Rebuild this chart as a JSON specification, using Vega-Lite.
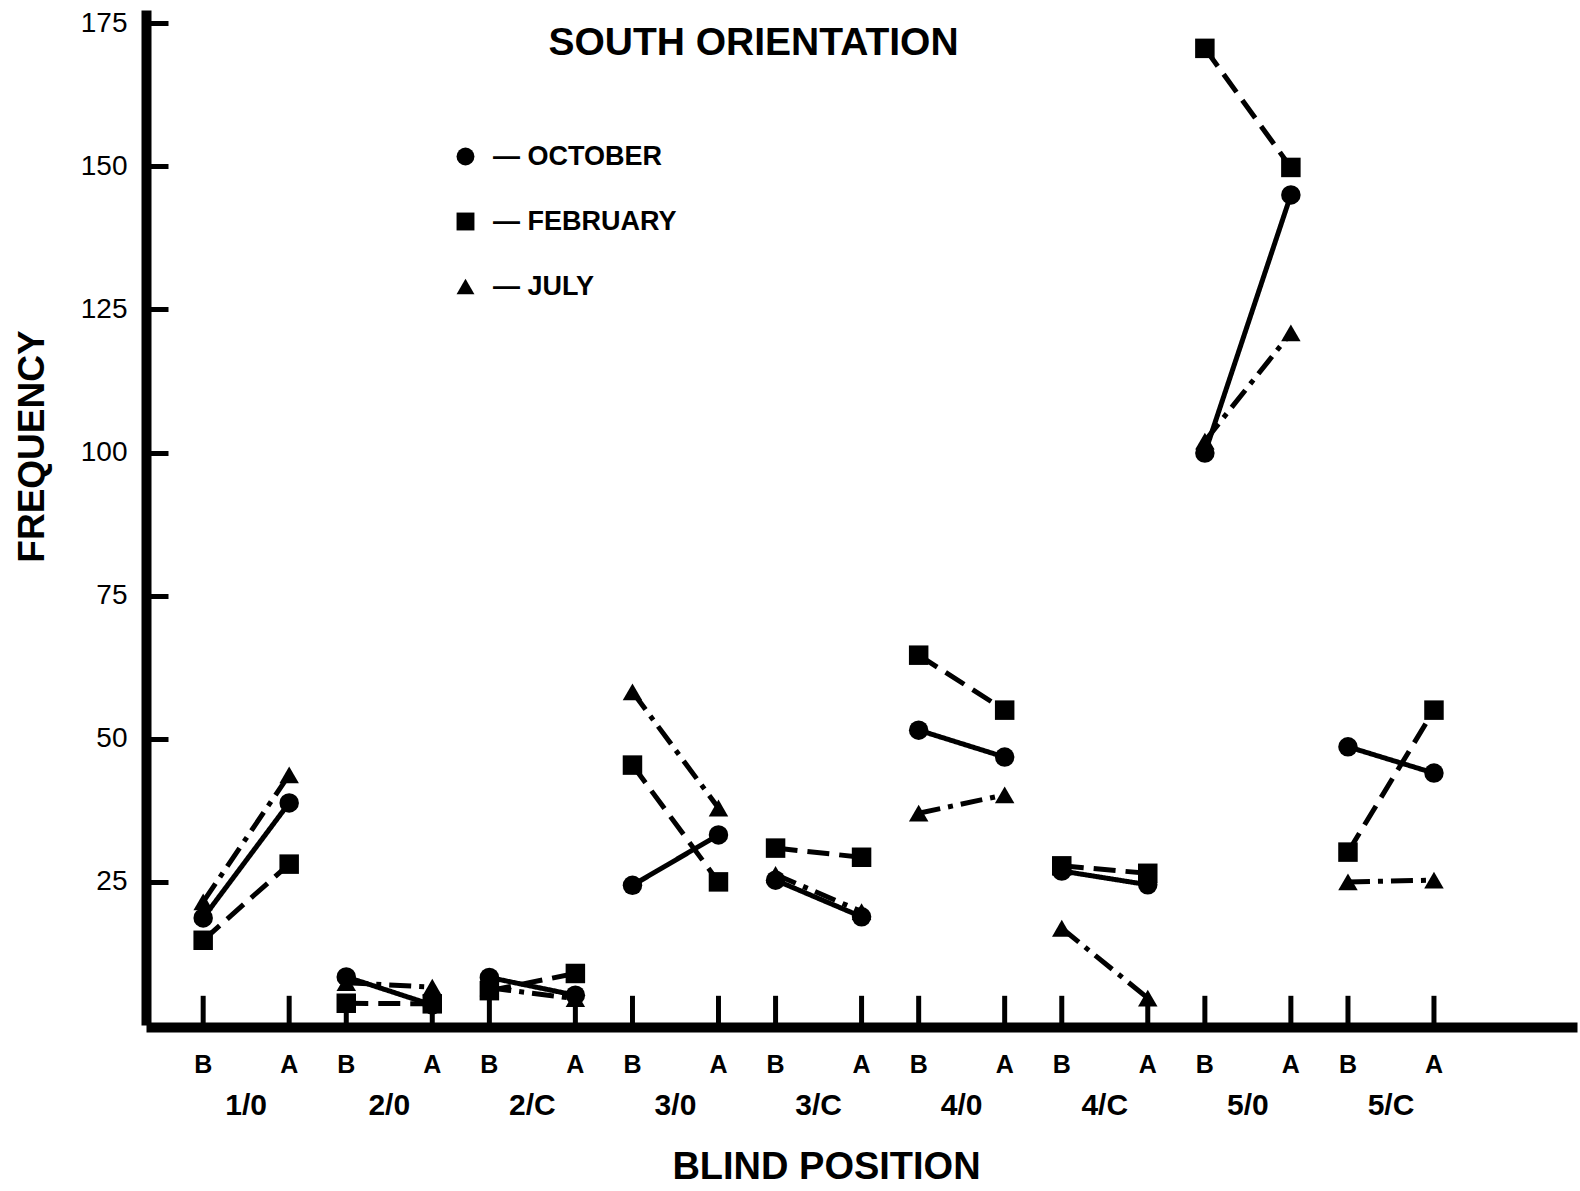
{
  "$schema": "https://vega.github.io/schema/vega-lite/v6.json",
  "width": 1431,
  "height": 1015,
  "autosize": {"type": "none"},
  "padding": {"left": 146, "top": 10, "right": 3, "bottom": 166},
  "background": "white",
  "config": {"view": {"stroke": null}, "font": "Liberation Sans"},
  "title": {
    "text": "SOUTH ORIENTATION",
    "anchor": "middle",
    "frame": "group",
    "orient": "top",
    "offset": -39,
    "dx": -108,
    "dy": 46,
    "baseline": "alphabetic",
    "font": "Liberation Sans",
    "fontSize": 39,
    "fontWeight": "bold",
    "color": "black"
  },
  "data": {
    "values": [
      {"group": "1/0", "pos": "B", "month": "October", "value": 18.7},
      {"group": "1/0", "pos": "A", "month": "October", "value": 38.8},
      {"group": "1/0", "pos": "B", "month": "February", "value": 14.8},
      {"group": "1/0", "pos": "A", "month": "February", "value": 28.1},
      {"group": "1/0", "pos": "B", "month": "July", "value": 21.5},
      {"group": "1/0", "pos": "A", "month": "July", "value": 43.7},
      {"group": "2/0", "pos": "B", "month": "October", "value": 8.4},
      {"group": "2/0", "pos": "A", "month": "October", "value": 3.5},
      {"group": "2/0", "pos": "B", "month": "February", "value": 3.8},
      {"group": "2/0", "pos": "A", "month": "February", "value": 3.7},
      {"group": "2/0", "pos": "B", "month": "July", "value": 7.4},
      {"group": "2/0", "pos": "A", "month": "July", "value": 6.6},
      {"group": "2/C", "pos": "B", "month": "October", "value": 8.3},
      {"group": "2/C", "pos": "A", "month": "October", "value": 5.2},
      {"group": "2/C", "pos": "B", "month": "February", "value": 6.0},
      {"group": "2/C", "pos": "A", "month": "February", "value": 9.0},
      {"group": "2/C", "pos": "B", "month": "July", "value": 6.5},
      {"group": "2/C", "pos": "A", "month": "July", "value": 4.6},
      {"group": "3/0", "pos": "B", "month": "October", "value": 24.4},
      {"group": "3/0", "pos": "A", "month": "October", "value": 33.2},
      {"group": "3/0", "pos": "B", "month": "February", "value": 45.4},
      {"group": "3/0", "pos": "A", "month": "February", "value": 25.0},
      {"group": "3/0", "pos": "B", "month": "July", "value": 58.2},
      {"group": "3/0", "pos": "A", "month": "July", "value": 37.9},
      {"group": "3/C", "pos": "B", "month": "October", "value": 25.3},
      {"group": "3/C", "pos": "A", "month": "October", "value": 18.9},
      {"group": "3/C", "pos": "B", "month": "February", "value": 30.9},
      {"group": "3/C", "pos": "A", "month": "February", "value": 29.3},
      {"group": "3/C", "pos": "B", "month": "July", "value": 26.3},
      {"group": "3/C", "pos": "A", "month": "July", "value": 19.8},
      {"group": "4/0", "pos": "B", "month": "October", "value": 51.5},
      {"group": "4/0", "pos": "A", "month": "October", "value": 46.8},
      {"group": "4/0", "pos": "B", "month": "February", "value": 64.6},
      {"group": "4/0", "pos": "A", "month": "February", "value": 55.0},
      {"group": "4/0", "pos": "B", "month": "July", "value": 37.0},
      {"group": "4/0", "pos": "A", "month": "July", "value": 40.2},
      {"group": "4/C", "pos": "B", "month": "October", "value": 26.9},
      {"group": "4/C", "pos": "A", "month": "October", "value": 24.5},
      {"group": "4/C", "pos": "B", "month": "February", "value": 27.8},
      {"group": "4/C", "pos": "A", "month": "February", "value": 26.5},
      {"group": "4/C", "pos": "B", "month": "July", "value": 16.9},
      {"group": "4/C", "pos": "A", "month": "July", "value": 4.7},
      {"group": "5/0", "pos": "B", "month": "October", "value": 99.9},
      {"group": "5/0", "pos": "A", "month": "October", "value": 145.0},
      {"group": "5/0", "pos": "B", "month": "February", "value": 170.6},
      {"group": "5/0", "pos": "A", "month": "February", "value": 149.8},
      {"group": "5/0", "pos": "B", "month": "July", "value": 102.0},
      {"group": "5/0", "pos": "A", "month": "July", "value": 120.9},
      {"group": "5/C", "pos": "B", "month": "October", "value": 48.6},
      {"group": "5/C", "pos": "A", "month": "October", "value": 44.0},
      {"group": "5/C", "pos": "B", "month": "February", "value": 30.2},
      {"group": "5/C", "pos": "A", "month": "February", "value": 55.0},
      {"group": "5/C", "pos": "B", "month": "July", "value": 25.0},
      {"group": "5/C", "pos": "A", "month": "July", "value": 25.3}
    ]
  },
  "encoding": {
    "x": {
      "field": "group",
      "type": "nominal",
      "sort": ["1/0", "2/0", "2/C", "3/0", "3/C", "4/0", "4/C", "5/0", "5/C"],
      "scale": {"paddingInner": 0, "paddingOuter": 0.5, "align": 0.2},
      "axis": {
        "domainWidth": 10,
        "domainColor": "black",
        "offset": 2,
        "ticks": false,
        "labelAngle": 0,
        "labelFont": "Liberation Sans",
        "labelFontSize": 30,
        "labelFontWeight": "bold",
        "labelColor": "black",
        "labelBaseline": "middle",
        "labelPadding": 78,
        "title": "BLIND POSITION",
        "titleFont": "Liberation Sans",
        "titleFontSize": 38,
        "titleFontWeight": "bold",
        "titleColor": "black",
        "titleX": 680,
        "titleY": 140,
        "titleAlign": "center",
        "titleBaseline": "middle"
      }
    },
    "xOffset": {
      "field": "pos",
      "type": "nominal",
      "sort": ["B", "A"],
      "scale": {"type": "point", "padding": 0.332}
    }
  },
  "layer": [
    {
      "transform": [{"filter": "datum.month === 'October'"}],
      "mark": {"type": "rule", "strokeWidth": 5, "color": "black"},
      "encoding": {
        "y": {"datum": 0, "type": "quantitative", "scale": {"domain": [0, 177.3], "nice": false}},
        "y2": {"datum": 5.1}
      }
    },
    {
      "transform": [{"filter": "datum.month === 'October'"}],
      "mark": {"type": "text", "dy": 40, "fontSize": 25, "fontWeight": "bold", "baseline": "middle", "color": "black", "font": "Liberation Sans"},
      "encoding": {
        "y": {"datum": 0, "type": "quantitative"},
        "text": {"field": "pos"}
      }
    },
    {
      "mark": {"type": "line", "strokeWidth": 5, "color": "black", "strokeCap": "butt"},
      "encoding": {
        "y": {
          "field": "value",
          "type": "quantitative",
          "scale": {"domain": [0, 177.3], "nice": false},
          "axis": {
            "values": [25, 50, 75, 100, 125, 150, 175],
            "grid": false,
            "domainWidth": 10,
            "domainColor": "black",
            "tickSize": -22,
            "tickWidth": 5,
            "tickColor": "black",
            "labelPadding": 41,
            "labelFont": "Liberation Sans",
            "labelFontSize": 28,
            "labelColor": "black",
            "title": "FREQUENCY",
            "titleFont": "Liberation Sans",
            "titleFontSize": 37,
            "titleFontWeight": "bold",
            "titleColor": "black",
            "titleAngle": 270,
            "titleX": -114,
            "titleY": 436,
            "titleAlign": "center",
            "titleBaseline": "middle"
          }
        },
        "detail": [{"field": "group"}, {"field": "month"}],
        "strokeDash": {
          "field": "month",
          "type": "nominal",
          "scale": {"domain": ["July", "February", "October"], "range": [[22, 8, 5, 8], [22, 10], [1, 0]]},
          "legend": null
        }
      }
    },
    {
      "mark": {"type": "point", "filled": true, "color": "black", "opacity": 1, "size": 380},
      "encoding": {
        "y": {"field": "value", "type": "quantitative"},
        "shape": {
          "field": "month",
          "type": "nominal",
          "scale": {"domain": ["October", "February", "July"], "range": ["circle", "square", "triangle-up"]},
          "legend": {
            "title": null,
            "orient": "none",
            "legendX": 306,
            "legendY": 133,
            "labelExpr": "'— ' + upper(datum.label)",
            "labelFont": "Liberation Sans",
            "labelFontSize": 27,
            "labelFontWeight": "bold",
            "labelColor": "black",
            "labelOffset": 14,
            "labelLimit": 0,
            "symbolSize": 320,
            "symbolFillColor": "black",
            "symbolStrokeWidth": 0,
            "rowPadding": 37
          }
        }
      }
    }
  ]
}
